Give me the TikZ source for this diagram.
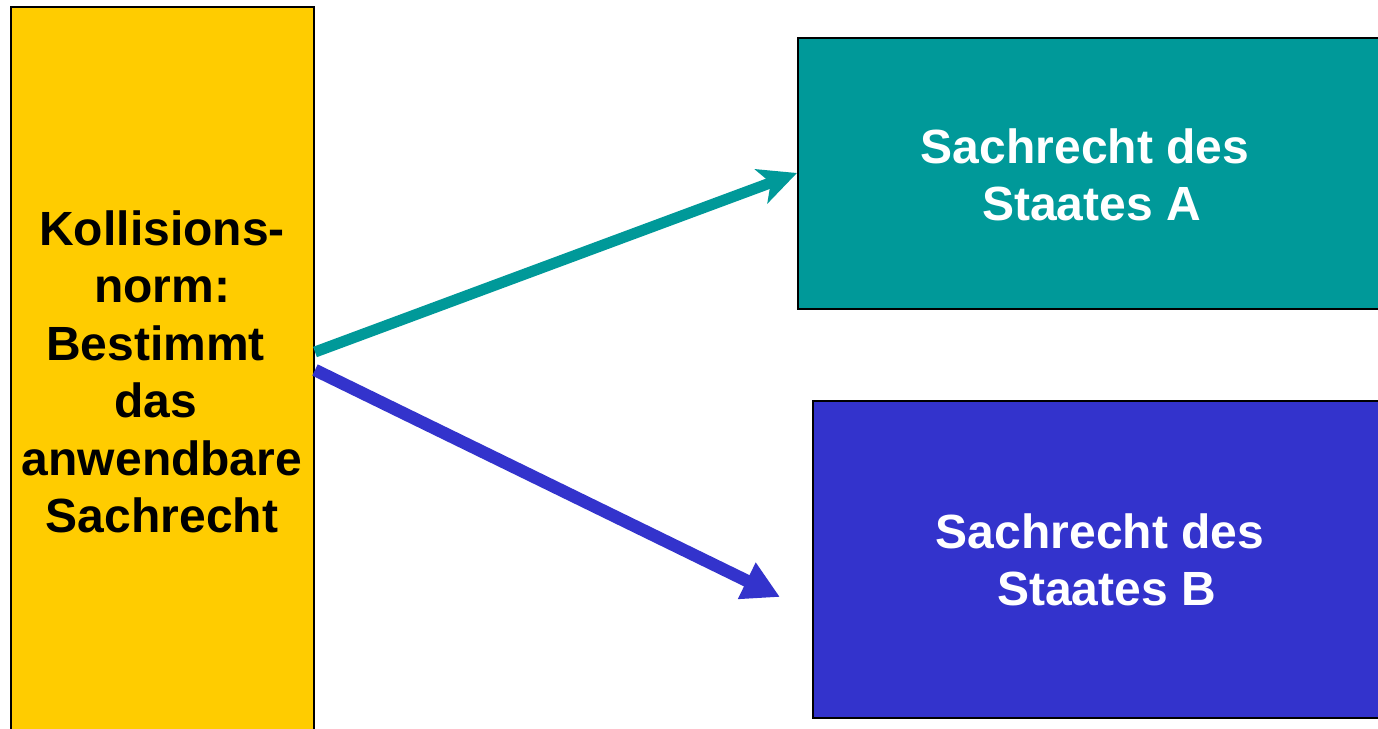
\documentclass[tikz,border=0pt]{standalone}
\usepackage{fontspec}
\setmainfont{Liberation Sans}
\usetikzlibrary{arrows.meta}
\definecolor{kollyellow}{HTML}{FFCC00}
\definecolor{staatteal}{HTML}{009999}
\definecolor{staatblue}{HTML}{3333CC}
\newcommand{\gap}{\rule{13pt}{0pt}}
\tikzset{
  panel/.style={draw=black, line width=2pt, inner sep=0pt, anchor=north west},
  paneltext/.style={font=\fontsize{48}{57.5}\selectfont\bfseries, align=center, inner sep=0pt},
}
\begin{document}
\begin{tikzpicture}[x=1pt,y=-1pt]
  \useasboundingbox (0,0) rectangle (1378,728);
  \clip (0,0) rectangle (1378,728);
  \fill[white] (0,0) rectangle (1378,728);
  % boxes
  \node[panel, fill=kollyellow, minimum width=303pt, minimum height=740pt] (koll) at (10,6) {};
  \node[panel, fill=staatteal, minimum width=620pt, minimum height=271pt] (sa) at (797,37) {};
  \node[panel, fill=staatblue, minimum width=600pt, minimum height=317pt] (sb) at (812,400) {};
  % texts
  \node[paneltext] (kolltext) at (162,372) {Kollisions-\\norm:\\Bestimmt\gap\\das\gap\\anwendbare\\Sachrecht};
  \node[paneltext, text=white] (satext) at (1085,175) {Sachrecht des\\\gap Staates A};
  \node[paneltext, text=white] (sbtext) at (1100,560) {Sachrecht des\\\gap Staates B};
  % connectors
  \draw[line width=11pt, staatteal, -{Stealth[length=38pt, width=36pt, inset=10pt]}]
    (koll.east |- 0,352) -- (sa.west |- 0,173);
  \draw[line width=12.5pt, staatblue, -{Triangle[length=37pt, width=38pt]}]
    (koll.east |- 0,370) -- ([xshift=-32pt]sb.west |- 0,597);
\end{tikzpicture}
\end{document}
